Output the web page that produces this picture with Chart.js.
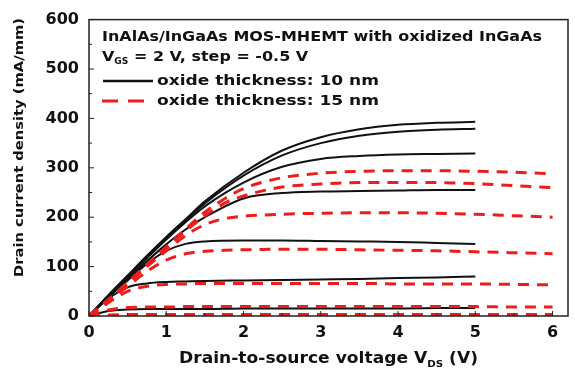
<!DOCTYPE html>
<html>
<head>
<meta charset="utf-8">
<script src="https://cdn.jsdelivr.net/npm/chart.js@4"></script>
<style>
  html, body { margin: 0; padding: 0; background: #fff; }
  #wrap { width: 575px; height: 373px; }
</style>
</head>
<body>
<div id="wrap"><canvas id="myChart" width="575" height="373"></canvas></div>
<script>
// ---- data ----
var vdsBlack = [0, 0.25, 0.5, 0.75, 1, 1.25, 1.5, 2, 2.5, 3, 3.5, 4, 4.5, 5];
var black_vgs20  = [0, 42, 82, 122, 160, 196, 232, 290, 335, 362, 378, 387, 391, 393];
var black_vgs15  = [0, 41, 80, 120, 158, 194, 228, 284, 325, 350, 365, 373, 377, 379];
var black_vgs10  = [0, 40, 78, 117, 155, 190, 222, 270, 302, 318, 324, 327, 328, 329];
var black_vgs05  = [0, 39, 75, 111, 145, 175, 200, 238, 249, 252, 253, 254, 255, 255];
var black_vgs00  = [0, 38, 72, 106, 132, 146, 151, 153, 153, 152, 151, 150, 148, 146];
var black_vgsm05 = [0, 35, 58, 66, 69, 70, 71, 72, 73, 74, 75, 77, 78, 80];
var black_vgsm10 = [0, 10, 13, 14, 14, 14, 14, 15, 15, 15, 15, 15, 16, 16];

var vdsRed = [0, 0.25, 0.5, 0.75, 1, 1.25, 1.5, 1.75, 2, 2.5, 3, 3.5, 4, 4.5, 5, 5.5, 6];
var red_vgs20  = [0, 33, 68, 104, 140, 176, 210, 237, 258, 280, 289, 293, 294, 294, 293, 291, 288];
var red_vgs15  = [0, 33, 68, 104, 138, 172, 203, 228, 243, 261, 267, 270, 270, 270, 268, 264, 260];
var red_vgs10  = [0, 32, 66, 100, 132, 163, 185, 197, 202, 206, 208, 209, 209, 208, 206, 203, 200];
var red_vgs05  = [0, 31, 60, 90, 113, 126, 131, 133, 134, 135, 135, 134, 133, 132, 130, 128, 126];
var red_vgs00  = [0, 27, 50, 60, 64, 65, 66, 66, 66, 66, 66, 66, 65, 65, 65, 64, 63];
var red_vgsm05 = [0, 12, 17, 18, 18, 19, 19, 19, 19, 19, 19, 19, 19, 19, 19, 18, 18];
var red_vgsm10 = [0, 2, 3, 3, 3, 3, 3, 3, 3, 3, 3, 3, 3, 3, 3, 3, 3];

var xTicks = [0, 1, 2, 3, 4, 5, 6];
var yTicks = [0, 100, 200, 300, 400, 500, 600];

var blackSets = [black_vgs20, black_vgs15, black_vgs10, black_vgs05, black_vgs00, black_vgsm05, black_vgsm10];
var redSets = [red_vgs20, red_vgs15, red_vgs10, red_vgs05, red_vgs00, red_vgsm05, red_vgsm10];

var legendTitle = "InAlAs/InGaAs MOS-MHEMT with oxidized InGaAs";
var legend10 = "oxide thickness: 10 nm";
var legend15 = "oxide thickness: 15 nm";

function pts(xs, ys) {
    var out = [];
    ys.forEach((y, i) => { out.push({x: xs[i], y: y}); });
    return out;
}

var datasets = [];
redSets.forEach((s) => {
    datasets.push({
        data: pts(vdsRed, s),
        borderColor: "#ee1c1c",
        borderWidth: 3,
        borderDash: [11, 8],
        pointRadius: 0,
        showLine: true,
        cubicInterpolationMode: "monotone",
        fill: false
    });
});
blackSets.forEach((s) => {
    datasets.push({
        data: pts(vdsBlack, s),
        borderColor: "#111",
        borderWidth: 2,
        pointRadius: 0,
        showLine: true,
        cubicInterpolationMode: "monotone",
        fill: false
    });
});

var FONT = "DejaVu Sans";

// text squeezed/stretched horizontally by sx, returns drawn width
function stext(ctx, txt, x, y, size, sx) {
    ctx.save();
    ctx.font = "bold " + size + "px '" + FONT + "'";
    ctx.translate(x, y);
    ctx.scale(sx, 1);
    ctx.fillText(txt, 0, 0);
    var w = ctx.measureText(txt).width * sx;
    ctx.restore();
    return w;
}
function fitScale(ctx, txt, size, target) {
    ctx.font = "bold " + size + "px '" + FONT + "'";
    return target / ctx.measureText(txt).width;
}

// frame, inward ticks, legend and axis titles
var decor = {
    id: "decor",
    afterDraw(chart) {
        var ctx = chart.ctx, a = chart.chartArea;
        var xs = chart.scales.x, ys = chart.scales.y;
        ctx.save();
        ctx.strokeStyle = "#222";
        ctx.lineWidth = 1.5;
        ctx.strokeRect(a.left, a.top, a.right - a.left, a.bottom - a.top);

        ctx.lineWidth = 1;
        for (var v = 0; v <= 600; v += 50) {
            var py = ys.getPixelForValue(v);
            var len = (v % 100 === 0) ? 5 : 3;
            ctx.beginPath(); ctx.moveTo(a.left, py); ctx.lineTo(a.left + len, py); ctx.stroke();
        }
        for (var u = 0; u <= 6; u += 0.5) {
            var px = xs.getPixelForValue(u);
            var l2 = (u % 1 === 0) ? 5 : 3;
            ctx.beginPath(); ctx.moveTo(px, a.bottom); ctx.lineTo(px, a.bottom - l2); ctx.stroke();
        }

        // legend block
        ctx.fillStyle = "#111";
        ctx.textBaseline = "middle";
        ctx.textAlign = "left";
        var sx1 = fitScale(ctx, legendTitle, 14, 440);
        stext(ctx, legendTitle, 102, 37, 14, sx1);

        var x0 = 102;
        var w = stext(ctx, "V", x0, 57, 14, sx1);
        var w2 = stext(ctx, "GS", x0 + w, 62, 8, sx1);
        stext(ctx, " = 2 V, step = -0.5 V", x0 + w + w2, 57, 14, sx1);

        ctx.strokeStyle = "#111";
        ctx.lineWidth = 2.5;
        ctx.beginPath(); ctx.moveTo(103, 81); ctx.lineTo(153, 81); ctx.stroke();
        var sx3 = fitScale(ctx, legend10, 14, 222);
        stext(ctx, legend10, 157, 81, 14, sx3);

        ctx.strokeStyle = "#ee1c1c";
        ctx.lineWidth = 3;
        ctx.beginPath(); ctx.moveTo(102, 101); ctx.lineTo(118, 101); ctx.stroke();
        ctx.beginPath(); ctx.moveTo(128, 101); ctx.lineTo(144, 101); ctx.stroke();
        stext(ctx, legend15, 157, 101, 14, sx3);

        // x axis title with subscript
        var t1 = "Drain-to-source voltage V", t2 = "DS", t3 = " (V)";
        ctx.font = "bold 15px '" + FONT + "'";
        var w1 = ctx.measureText(t1).width, w3 = ctx.measureText(t3).width;
        ctx.font = "bold 9px '" + FONT + "'";
        var ws = ctx.measureText(t2).width;
        var sxT = 299 / (w1 + ws + w3);
        var st = 179;
        st += stext(ctx, t1, st, 359, 15, sxT);
        st += stext(ctx, t2, st, 365, 9, sxT);
        stext(ctx, t3, st, 359, 15, sxT);

        // y axis title
        var yt = "Drain current density (mA/mm)";
        var sy = fitScale(ctx, yt, 13, 259);
        ctx.save();
        ctx.translate(20, 277);
        ctx.rotate(-Math.PI / 2);
        stext(ctx, yt, 0, 0, 13, sy);
        ctx.restore();
        ctx.restore();
    }
};

new Chart("myChart", {
    type: "scatter",
    data: { datasets: datasets },
    plugins: [decor],
    options: {
        responsive: false,
        animation: false,
        layout: { padding: { left: 0, right: 7, top: 17, bottom: 0 } },
        plugins: {
            legend: { display: false },
            tooltip: { enabled: false },
            title: { display: false }
        },
        scales: {
            x: {
                type: "linear",
                min: 0,
                max: 6.2,
                afterFit: (s) => { s.height = 57; },
                afterBuildTicks: (s) => { s.ticks = xTicks.map(v => ({value: v})); },
                grid: { display: false, drawTicks: false },
                border: { display: false },
                ticks: {
                    padding: 7,
                    color: "#111",
                    font: { family: FONT, size: 16, weight: "bold" }
                }
            },
            y: {
                type: "linear",
                min: 0,
                max: 600,
                afterFit: (s) => { s.width = 89; },
                afterBuildTicks: (s) => { s.ticks = yTicks.map(v => ({value: v})); },
                grid: { display: false, drawTicks: false },
                border: { display: false },
                ticks: {
                    padding: 10,
                    color: "#111",
                    font: { family: FONT, size: 16, weight: "bold" }
                }
            }
        }
    }
});
</script>
</body>
</html>
